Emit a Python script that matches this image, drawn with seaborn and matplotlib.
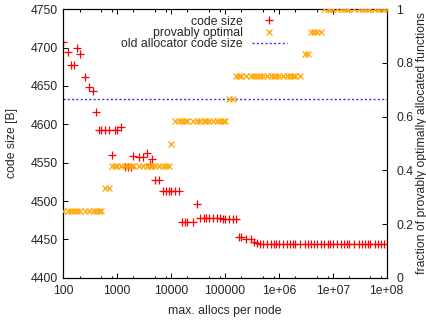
import matplotlib
matplotlib.use("Agg")
import matplotlib.pyplot as plt
import pandas as pd
import seaborn as sns
from matplotlib.lines import Line2D
from matplotlib.ticker import FixedLocator, FixedFormatter, LogLocator, NullFormatter

# x grid: 1, 1.2, 1.4, 1.6, 1.8, 2, 2.5, 3, 3.5, 4, 4.5, 5, 6, 7, 8, 9 per decade
ALLOCS = [
    100, 120, 140, 160, 180, 200, 250, 300, 350, 400, 450, 500, 600, 700, 800, 900,
    1000, 1200, 1400, 1600, 1800, 2000, 2500, 3000, 3500, 4000, 4500, 5000, 6000, 7000, 8000, 9000,
    1e4, 1.2e4, 1.4e4, 1.6e4, 1.8e4, 2e4, 2.5e4, 3e4, 3.5e4, 4e4, 4.5e4, 5e4, 6e4, 7e4, 8e4, 9e4,
    1e5, 1.2e5, 1.4e5, 1.6e5, 1.8e5, 2e5, 2.5e5, 3e5, 3.5e5, 4e5, 4.5e5, 5e5, 6e5, 7e5, 8e5, 9e5,
    1e6, 1.2e6, 1.4e6, 1.6e6, 1.8e6, 2e6, 2.5e6, 3e6, 3.5e6, 4e6, 4.5e6, 5e6, 6e6, 7e6, 8e6, 9e6,
    1e7, 1.2e7, 1.4e7, 1.6e7, 1.8e7, 2e7, 2.5e7, 3e7, 3.5e7, 4e7, 4.5e7, 5e7, 6e7, 7e7, 8e7, 9e7,
    1e8,
]

CODE_SIZE = [
    4708, 4694, 4678, 4678, 4699, 4692, 4662, 4649, 4643, 4616, 4593, 4593, 4593, 4593, 4560, 4593,
    4593, 4597, 4544, 4544, 4544, 4559, 4558, 4558, 4563, 4548, 4555, 4527, 4527, 4513, 4513, 4513,
    4513, 4513, 4513, 4472, 4472, 4472, 4472, 4496, 4478, 4478, 4478, 4478, 4478, 4478, 4478, 4476,
    4476, 4476, 4476, 4476, 4453, 4453, 4450, 4450, 4447, 4445, 4444, 4444, 4444, 4444, 4444, 4444,
    4444, 4444, 4444, 4444, 4444, 4444, 4444, 4444, 4444, 4444, 4444, 4444, 4444, 4444, 4444, 4444,
    4444, 4444, 4444, 4444, 4444, 4444, 4444, 4444, 4444, 4444, 4444, 4444, 4444, 4444, 4444, 4444,
    4444,
]

PROVABLY_OPTIMAL = [
    0.25, 0.25, 0.25, 0.25, 0.25, 0.25, 0.25, 0.25, 0.25, 0.25, 0.25, 0.25, 0.333, 0.333, 0.417, 0.417,
    0.417, 0.417, 0.417, 0.417, 0.417, 0.417, 0.417, 0.417, 0.417, 0.417, 0.417, 0.417, 0.417, 0.417, 0.417, 0.417,
    0.5, 0.583, 0.583, 0.583, 0.583, 0.583, 0.583, 0.583, 0.583, 0.583, 0.583, 0.583, 0.583, 0.583, 0.583, 0.583,
    0.583, 0.667, 0.667, 0.75, 0.75, 0.75, 0.75, 0.75, 0.75, 0.75, 0.75, 0.75, 0.75, 0.75, 0.75, 0.75,
    0.75, 0.75, 0.75, 0.75, 0.75, 0.75, 0.75, 0.833, 0.833, 0.917, 0.917, 0.917, 0.917, 1.0, 1.0, 1.0,
    1.0, 1.0, 1.0, 1.0, 1.0, 1.0, 1.0, 1.0, 1.0, 1.0, 1.0, 1.0, 1.0, 1.0, 1.0, 1.0,
    1.0,
]

OLD_ALLOCATOR_SIZE = 4633

XTICKS = [100, 1000, 10000, 100000, 1e6, 1e7, 1e8]
XTICK_LABELS = ["100", "1000", "10000", "100000", "1e+06", "1e+07", "1e+08"]
YTICKS = [4400, 4450, 4500, 4550, 4600, 4650, 4700, 4750]
Y2TICKS = [0, 0.2, 0.4, 0.6, 0.8, 1.0]
Y2TICK_LABELS = ["0", "0.2", "0.4", "0.6", "0.8", "1"]

RED = "#ff0000"
ORANGE = "#ffa500"
BLUE = "#3030ff"
FS = 8.8

sns.set_theme(style="ticks")
plt.rcParams["font.family"] = ["Liberation Sans", "DejaVu Sans"]
plt.rcParams["font.size"] = FS

df = pd.DataFrame({"allocs": ALLOCS, "code_size": CODE_SIZE, "optimal": PROVABLY_OPTIMAL})

W, H = 427, 322
fig = plt.figure(figsize=(W / 100, H / 100), dpi=100)
left, right, top, bottom = 63.3, 386.7, 9.3, 277.7
ax = fig.add_axes([left / W, 1 - bottom / H, (right - left) / W, (bottom - top) / H])
ax2 = ax.twinx()

dots = (0, (1.5, 1.6))
ax.axhline(OLD_ALLOCATOR_SIZE, color=BLUE, lw=1.0, linestyle=dots, zorder=1)
sns.scatterplot(data=df, x="allocs", y="code_size", marker="+", s=30, color=RED,
                linewidth=0.9, ax=ax, legend=False, zorder=2)
sns.scatterplot(data=df, x="allocs", y="optimal", marker="x", s=18, color=ORANGE,
                linewidth=0.9, ax=ax2, legend=False, zorder=3)

for a in (ax, ax2):
    a.set_xscale("log")
    a.set_xlim(100, 1e8)
    a.set_xlabel("")
    a.set_ylabel("")
    for sp in a.spines.values():
        sp.set_linewidth(0.8)
        sp.set_color("black")

ax.set_ylim(4400, 4750)
ax2.set_ylim(0, 1)

ax.xaxis.set_major_locator(FixedLocator(XTICKS))
ax.xaxis.set_major_formatter(FixedFormatter(XTICK_LABELS))
ax.xaxis.set_minor_locator(LogLocator(base=10, subs=[2, 5, 8]))
ax.xaxis.set_minor_formatter(NullFormatter())
ax.set_yticks(YTICKS)
ax.yaxis.set_minor_locator(FixedLocator([]))
ax2.set_yticks(Y2TICKS)
ax2.set_yticklabels(Y2TICK_LABELS)
ax2.yaxis.set_minor_locator(FixedLocator([]))

ax.tick_params(axis="x", which="both", direction="in", top=True, bottom=True, color="black", width=0.7,
               labelsize=FS, pad=5)
ax.tick_params(axis="x", which="major", length=3.6)
ax.tick_params(axis="x", which="minor", length=1.8)
ax.tick_params(axis="y", direction="in", left=True, right=False, length=3.6, width=0.7, color="black",
               labelsize=FS, pad=4)
ax2.tick_params(axis="y", direction="in", right=True, left=False, length=3.6, width=0.7, color="black",
                labelsize=FS, pad=7)

fig.text(225 / W, 1 - 311 / H, "max. allocs per node", ha="center", va="center", fontsize=FS)
fig.text(12 / W, 1 - 143.5 / H, "code size [B]", ha="center", va="center", rotation=90, fontsize=FS)
fig.text(422 / W, 1 - 143.5 / H, "fraction of provably optimally allocated functions",
         ha="center", va="center", rotation=90, fontsize=FS)

handles = [
    Line2D([], [], ls="none", marker="+", color=RED, ms=5.5, mew=0.9),
    Line2D([], [], ls="none", marker="x", color=ORANGE, ms=4.2, mew=0.9),
    Line2D([], [], color=BLUE, lw=1.0, linestyle=dots),
]
labels = ["code size", "provably optimal", "old allocator code size"]
ax2.legend(handles, labels, loc="upper right",
           bbox_to_anchor=((287 - left) / (right - left), (bottom - 15.5) / (bottom - top)),
           frameon=False, markerfirst=False, borderpad=0, borderaxespad=0, handlelength=2.9,
           handletextpad=0.7, labelspacing=-0.05, fontsize=FS)

fig.savefig("out.png", dpi=100)
